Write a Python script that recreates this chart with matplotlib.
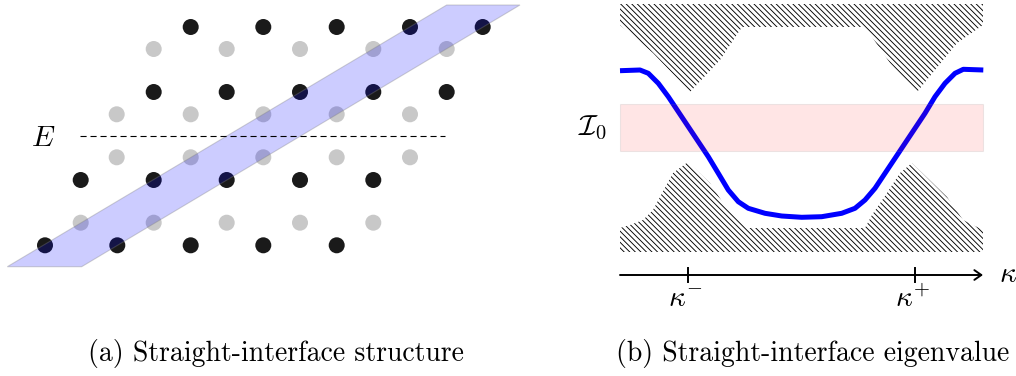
import matplotlib
matplotlib.use("Agg")
import matplotlib.pyplot as plt
from matplotlib.patches import Circle, Polygon, Rectangle

plt.rcParams['mathtext.fontset'] = 'cm'
plt.rcParams['hatch.linewidth'] = 0.65

# ---------------- data (pixel coordinates of the diagram) ----------------
black_x = [190.7, 263.3, 336.7, 410.0, 482.7,
           153.7, 226.7, 300.0, 373.3, 446.7,
           80.7, 153.7, 226.7, 300.0, 373.3,
           45.0, 117.3, 190.7, 263.3, 336.7]
black_y = [27, 27, 27, 27, 27,
           92, 92, 92, 92, 92,
           180, 180, 180, 180, 180,
           245.3, 245.3, 245.3, 245.3, 245.3]
gray_x = [153.7, 226.7, 300.0, 373.3, 446.7,
          116.7, 190.7, 263.3, 336.7, 410.0,
          116.7, 190.7, 263.3, 336.7, 410.0,
          80.7, 153.7, 226.7, 300.0, 373.3]
gray_y = [49, 49, 49, 49, 49,
          114.3, 114.3, 114.3, 114.3, 114.3,
          157.3, 157.3, 157.3, 157.3, 157.3,
          222.7, 222.7, 222.7, 222.7, 222.7]
band_x = [7.3, 81.7, 520.0, 446.7]
band_y = [266.7, 266.7, 5.0, 5.0]
E_line_x = [80, 445]
E_line_y = [136, 136]

# right panel
top_region_x = [620, 983, 983, 957, 917, 890, 872, 862, 742, 720, 690, 653, 620]
top_region_y = [4, 4, 25, 43, 92, 63, 37, 27, 27, 60, 92, 53, 25]
bot_region_x = [620, 983, 983, 963, 947, 912, 900, 887, 872, 865,
                747, 723, 710, 688, 673, 660, 653, 643, 630, 620]
bot_region_y = [252, 252, 230, 220, 197, 163, 173, 193, 215, 228,
                228, 203, 183, 162, 173, 197, 210, 220, 225, 228]
band_I0 = (620, 104.3, 983, 150.7)  # x0, y0, x1, y1

curve_x = [620, 640, 648.3, 658.3, 668.3, 678.3, 688.3, 698.3, 708.3, 718.3,
           728.3, 738.3, 748.3, 765, 781.7, 801.7, 821.7, 841.7, 855, 865,
           875, 885, 895, 905, 915, 925, 935, 945, 955, 963.3, 983.3]
curve_y = [70.7, 70, 73.3, 83.3, 96.7, 111.7, 126.7, 141.7, 156.7, 173.3,
           190, 201.7, 208.3, 213.3, 216, 217.3, 216.7, 213.3, 208.3, 200,
           188.3, 173.3, 158.3, 143.3, 128.3, 113.3, 96.7, 83.3, 73.3, 69.3, 70]

axis_x = [620, 983]
axis_y = 275
tick_x = [688.3, 915.0]
tick_labels = [r'$\kappa^{-}$', r'$\kappa^{+}$']

# ---------------- figure ----------------
fig = plt.figure(figsize=(10.16, 3.76), dpi=100)
ax = fig.add_axes([0, 0, 1, 1])
ax.set_xlim(0, 1016)
ax.set_ylim(376, 0)
ax.axis('off')

R = 8.0
for x, y in zip(gray_x, gray_y):
    ax.add_patch(Circle((x, y), R, facecolor='#c8c8c8', edgecolor='none', zorder=2))
for x, y in zip(black_x, black_y):
    ax.add_patch(Circle((x, y), R, facecolor='#1a1a1a', edgecolor='none', zorder=3))
ax.add_patch(Polygon(list(zip(band_x, band_y)), closed=True,
                     facecolor=(0, 0, 1, 0.2), edgecolor=(0.5, 0.5, 0.5, 0.35),
                     lw=0.8, zorder=4))
ax.plot(E_line_x, E_line_y, color='black', lw=0.8, dashes=(5.5, 3.5), zorder=5)
ax.text(43, 146.5, r'$E$', fontsize=21, ha='center', va='baseline')

# right panel
ax.add_patch(Polygon(list(zip(top_region_x, top_region_y)), closed=True,
                     facecolor='none', edgecolor='black', lw=0,
                     hatch='\\\\\\\\\\\\', zorder=1))
ax.add_patch(Polygon(list(zip(bot_region_x, bot_region_y)), closed=True,
                     facecolor='none', edgecolor='black', lw=0,
                     hatch='\\\\\\\\\\\\', zorder=1))
ax.plot(curve_x, curve_y, color='#0000ff', lw=3.6, solid_joinstyle='round',
        solid_capstyle='butt', zorder=5)
x0, y0, x1, y1 = band_I0
ax.add_patch(Rectangle((x0, y0), x1 - x0, y1 - y0, facecolor=(1, 0, 0, 0.1),
                       edgecolor=(0.5, 0.5, 0.5, 0.15), lw=0.8, zorder=6))
ax.text(593, 135, r'$\mathcal{I}_0$', fontsize=21, ha='center', va='baseline')

ax.annotate('', xy=(axis_x[1], axis_y), xytext=(axis_x[0], axis_y),
            arrowprops=dict(arrowstyle='->,head_length=0.5,head_width=0.35',
                            lw=1.4, color='black', shrinkA=0, shrinkB=0))
label_x = [685, 913]
for tx, lx, tl in zip(tick_x, label_x, tick_labels):
    ax.plot([tx, tx], [268, 282], color='black', lw=1.4)
    ax.text(lx, 307, tl, fontsize=21, ha='center', va='baseline')
ax.text(1008, 281.7, r'$\kappa$', fontsize=21, ha='center', va='baseline')

ax.text(275.5, 360.7, '(a) Straight-interface structure', fontfamily='cmr10',
        fontsize=20, ha='center', va='baseline')
ax.text(812.5, 360.7, '(b) Straight-interface eigenvalue', fontfamily='cmr10',
        fontsize=20, ha='center', va='baseline')

fig.savefig('out.png', dpi=100)
